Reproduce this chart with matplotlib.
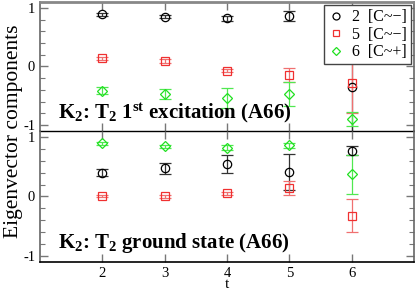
import numpy as np
import matplotlib.pyplot as plt
from matplotlib.ticker import MultipleLocator
from matplotlib.lines import Line2D

plt.rcParams['font.family'] = ['Liberation Serif', 'DejaVu Serif']
plt.rcParams['mathtext.fontset'] = 'custom'
plt.rcParams['mathtext.rm'] = 'Liberation Serif'
plt.rcParams['mathtext.bf'] = 'Liberation Serif:bold'
plt.rcParams['mathtext.default'] = 'bf'

# ==================== data ====================
t = np.array([2, 3, 4, 5, 6])
labels = ['2  [C~\u2212]', '5  [C~\u2212]', '6  [C~+]']

# 1st excitation (upper panel)
exc_2 = np.array([0.89, 0.85, 0.82, 0.86, -0.35])
exc_2_err = np.array([0.03, 0.03, 0.05, 0.08, 1.0])
exc_5 = np.array([0.14, 0.09, -0.07, -0.15, -0.29])
exc_5_err = np.array([0.03, 0.03, 0.03, 0.12, 0.5])
exc_6 = np.array([-0.41, -0.47, -0.54, -0.47, -0.89])
exc_6_err = np.array([0.06, 0.08, 0.17, 0.21, 0.12])

# ground state (lower panel)
gs_2 = np.array([0.40, 0.47, 0.54, 0.41, 0.77])
gs_2_err = np.array([0.06, 0.10, 0.15, 0.30, 0.07])
gs_5 = np.array([0.01, 0.00, 0.05, 0.14, -0.32])
gs_5_err = np.array([0.02, 0.02, 0.03, 0.12, 0.27])
gs_6 = np.array([0.89, 0.84, 0.82, 0.86, 0.37])
gs_6_err = np.array([0.02, 0.03, 0.04, 0.04, 0.33])

# ==================== style ====================
c_blk = 'black'
c_red = '#f03030'
c_grn = '#20e020'
c_red_e = '#f07070'
c_grn_e = '#50e850'
ms = 6


def draw_panel(ax, d2, e2, d5, e5, d6, e6):
    ax.errorbar(t, d2, yerr=e2, fmt='o', mfc='none', mec=c_blk, ms=ms, mew=0.9,
                ecolor='#333333', elinewidth=0.9, capsize=4, capthick=0.9)
    ax.errorbar(t, d5, yerr=e5, fmt='s', mfc='none', mec=c_red, ms=ms - 0.5, mew=0.9,
                ecolor=c_red_e, elinewidth=0.9, capsize=4, capthick=0.9)
    ax.errorbar(t, d6, yerr=e6, fmt='D', mfc='none', mec=c_grn, ms=ms - 1, mew=0.9,
                ecolor=c_grn_e, elinewidth=0.9, capsize=4, capthick=0.9)
    ax.set_xlim(1, 7)
    ax.set_ylim(-1.1, 1.1)
    ax.set_xticks([2, 3, 4, 5, 6])
    ax.set_yticks([-1, 0, 1])
    ax.set_yticklabels(['-1', '0', '1'])
    ax.yaxis.set_minor_locator(MultipleLocator(0.2))
    ax.tick_params(which='both', direction='in', top=True, right=True,
                   color='#777777', labelsize=10.5)
    ax.tick_params(which='major', length=6, width=1.0)
    ax.tick_params(which='minor', length=3.5, width=0.8)
    for s in ax.spines.values():
        s.set_color('#666666')
        s.set_linewidth(1.2)


fig = plt.figure(figsize=(4.15, 2.91), dpi=100)
ax1 = fig.add_axes([0.0964, 0.550, 0.9012, 0.443])
ax2 = fig.add_axes([0.0964, 0.0997, 0.9012, 0.4503])
ax2.patch.set_visible(False)

draw_panel(ax1, exc_2, exc_2_err, exc_5, exc_5_err, exc_6, exc_6_err)
draw_panel(ax2, gs_2, gs_2_err, gs_5, gs_5_err, gs_6, gs_6_err)

ax1.tick_params(labelbottom=False)
ax1.spines['bottom'].set_color('black')
ax1.spines['bottom'].set_linewidth(1.0)
ax1.spines['bottom'].set_zorder(5)
ax1.spines['top'].set_color('#888888')
ax1.spines['top'].set_linewidth(2.0)
ax2.spines['top'].set_visible(False)
ax2.spines['bottom'].set_color('black')
ax2.spines['bottom'].set_linewidth(1.2)

ax1.text(1.29, -0.89, r'K$_2$: T$_2$ 1$^{st}$ excitation (A66)', fontsize=15,
         fontweight='bold', va='baseline', ha='left')
ax2.text(1.29, -0.86, r'K$_2$: T$_2$ ground state (A66)', fontsize=15,
         fontweight='bold', va='baseline', ha='left')

ax2.set_xlabel('t', fontsize=11, labelpad=-1)
fig.text(0.033, 0.55, 'Eigenvector components', rotation=90, fontsize=15.5,
         va='center', ha='center')

handles = [
    Line2D([], [], ls='none', marker='o', mfc='none', mec=c_blk, ms=5, mew=0.9),
    Line2D([], [], ls='none', marker='s', mfc='none', mec=c_red, ms=5, mew=0.9),
    Line2D([], [], ls='none', marker='D', mfc='none', mec=c_grn, ms=4.2, mew=0.9),
]
leg = ax1.legend(handles, labels, loc='upper right', fontsize=11.5, frameon=True,
                 fancybox=False, borderaxespad=0.2, handletextpad=0.5,
                 handlelength=1.0, borderpad=0.25, labelspacing=0.1)
leg.get_frame().set_edgecolor('#444444')
leg.get_frame().set_linewidth(1.0)
leg.get_frame().set_alpha(1)
leg.set_zorder(10)

plt.savefig('out.png', dpi=100)
